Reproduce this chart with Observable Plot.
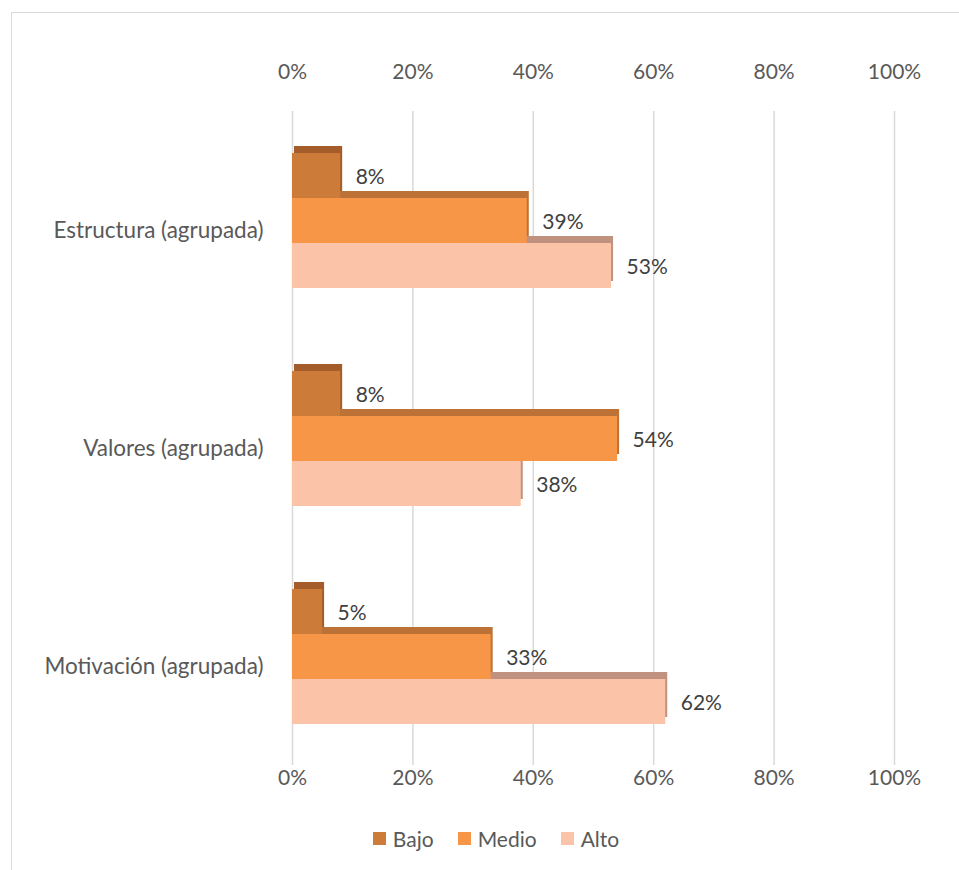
<!DOCTYPE html>
<html>
<head>
<meta charset="utf-8">
<script src="https://cdn.jsdelivr.net/npm/d3@7"></script>
<script src="https://cdn.jsdelivr.net/npm/@observablehq/plot@0.6"></script>
<style>
  html, body { margin: 0; padding: 0; background: #fff; }
  body { width: 959px; height: 870px; position: relative; overflow: hidden; font-family: "Lato", "Open Sans", sans-serif; }
  #frame { position: absolute; left: 11px; top: 12px; width: 1000px; height: 900px; border: 1.5px solid #d9d9d9; box-sizing: border-box; }
  #chart { position: absolute; left: 0; top: 0; }
  #legend { position: absolute; left: 0; width: 992px; top: 826px; display: flex; justify-content: center; gap: 24px; font-size: 21px; color: #595959; }
  #legend .item { display: flex; align-items: center; gap: 7px; }
  #legend .sw { width: 13px; height: 13px; display: inline-block; }
</style>
</head>
<body>
<div id="frame"></div>
<div id="chart"></div>
<div id="legend"></div>
<script>
const categories = ["Estructura (agrupada)", "Valores (agrupada)", "Motivación (agrupada)"];
const series = ["Bajo", "Medio", "Alto"];
const bajo = [8, 8, 5];
const medio = [39, 54, 33];
const alto = [53, 38, 62];
const xTicks = [0, 20, 40, 60, 80, 100];

const frontColors = ["#CC7B38", "#F79646", "#FBC4A9"];
const topColors = ["#A35C2A", "#BC7236", "#C0917F"];

const valuesBySeries = [bajo, medio, alto];
const rows = categories.flatMap((c, i) =>
  series.map((s, j) => ({ category: c, series: s, value: valuesBySeries[j][i] }))
);

const marks = [
  Plot.ruleX(xTicks, { stroke: "#d9d9d9", strokeWidth: 1.5 }),
];
// draw from back (Alto) to front (Bajo) so each top face peeks out above
[2, 1, 0].forEach(j => {
  const data = rows.filter(d => d.series === series[j]);
  marks.push(Plot.barX(data, { x: "value", y: "series", fy: "category", fill: topColors[j], dy: -7, dx: 2 }));
  marks.push(Plot.barX(data, { x: "value", y: "series", fy: "category", fill: frontColors[j] }));
});
marks.push(Plot.text(rows, {
  x: "value", y: "series", fy: "category", text: d => d.value + "%",
  textAnchor: "start", dx: 15, dy: 1, fill: "#404040", fontSize: 21
}));
marks.push(Plot.axisX({ anchor: "top", ticks: xTicks, tickFormat: d => d + "%", tickSize: 0, tickPadding: 33, label: null, fontSize: 21 }));
marks.push(Plot.axisX({ anchor: "bottom", ticks: xTicks, tickFormat: d => d + "%", tickSize: 0, tickPadding: 5, label: null, fontSize: 21 }));
marks.push(Plot.axisFy({ anchor: "left", tickSize: 0, tickPadding: 29, label: null, fontSize: 22.5, dy: 10 }));

const chart = Plot.plot({
  width: 959,
  height: 800,
  marginLeft: 292,
  marginRight: 65,
  marginTop: 110,
  marginBottom: 35,
  style: { fontFamily: "Lato, 'Open Sans', sans-serif", fontSize: "21px", color: "#595959", background: "transparent" },
  x: { domain: [0, 100], axis: null },
  y: { domain: series, axis: null, paddingInner: 0, paddingOuter: 0.875 },
  fy: { domain: categories, padding: 0, axis: null },
  marks
});
document.getElementById("chart").appendChild(chart);

const legend = document.getElementById("legend");
series.forEach((s, j) => {
  const item = document.createElement("div");
  item.className = "item";
  const sw = document.createElement("span");
  sw.className = "sw";
  sw.style.background = frontColors[j];
  const t = document.createElement("span");
  t.textContent = s;
  item.appendChild(sw);
  item.appendChild(t);
  legend.appendChild(item);
});
</script>
</body>
</html>
